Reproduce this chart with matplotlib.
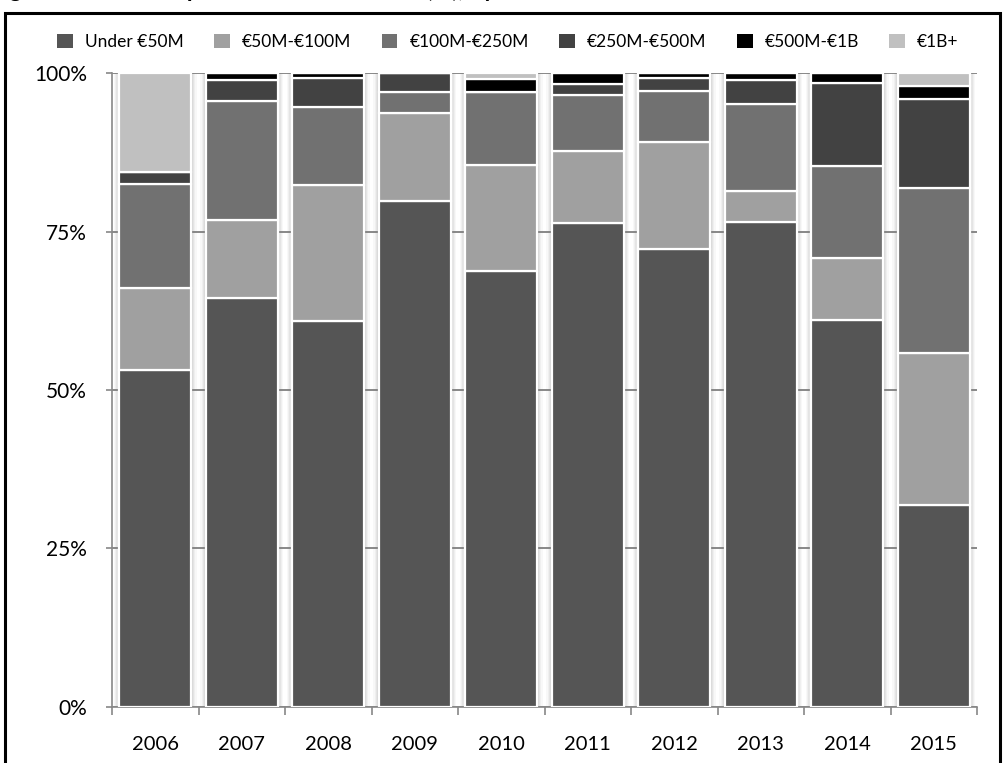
import matplotlib
matplotlib.use("Agg")
import matplotlib.pyplot as plt
import numpy as np
from matplotlib.patches import Rectangle, Patch
from matplotlib.ticker import FuncFormatter, FixedLocator

years = ["2006", "2007", "2008", "2009", "2010", "2011", "2012", "2013", "2014", "2015"]
series_names = ["Under €50M", "€50M-€100M", "€100M-€250M", "€250M-€500M", "€500M-€1B", "€1B+"]
under_50m = [53.2, 64.6, 60.9, 79.9, 68.8, 76.4, 72.2, 76.6, 61.1, 31.8]
m50_100 = [12.9, 12.2, 21.5, 13.9, 16.7, 11.3, 17.0, 4.9, 9.8, 24.1]
m100_250 = [16.4, 18.8, 12.3, 3.2, 11.6, 8.9, 8.0, 13.7, 14.5, 26.0]
m250_500 = [1.9, 3.4, 4.6, 3.0, 0.0, 1.7, 2.0, 3.7, 13.1, 14.1]
m500_1b = [0.0, 1.0, 0.7, 0.0, 2.0, 1.7, 0.8, 1.1, 1.5, 2.0]
b1_plus = [15.6, 0.0, 0.0, 0.0, 0.9, 0.0, 0.0, 0.0, 0.0, 2.0]
colors = ["#555555", "#a0a0a0", "#717171", "#424242", "#000000", "#c0c0c0"]

series = [under_50m, m50_100, m100_250, m250_500, m500_1b, b1_plus]

FONT = "Lato"
plt.rcParams["font.family"] = [FONT, "DejaVu Sans"]

W, H = 1004, 763
fig = plt.figure(figsize=(W / 100, H / 100), dpi=100)

# outer frame
fig.add_artist(Rectangle((5 / W, -0.02), 995 / W, 1.02 - 13 / H, transform=fig.transFigure,
                         fill=False, edgecolor="black", linewidth=2.2))

# heading, mostly above the top edge
fig.text(-10 / W, 1 + 3 / H, "Figure 3: Deal composition of the market (%), by size",
         fontsize=17, fontweight="bold", ha="left", va="baseline", color="black")

ax = fig.add_axes([112 / W, (H - 706.7) / H, 865 / W, (706.7 - 73.4) / H])
x = np.arange(len(years))
bar_w = 0.83

# soft glow behind each column
for i in x:
    for k, a in zip([0.13, 0.10, 0.07, 0.04], [0.05, 0.07, 0.09, 0.12]):
        ax.bar(i, 100, width=bar_w + k, color="#808080", alpha=a, linewidth=0, zorder=1.5)

bottom = np.zeros(len(years))
for name, vals, c in zip(series_names, series, colors):
    vals = np.array(vals)
    ax.bar(x, vals, width=bar_w, bottom=bottom, color=c, edgecolor="white",
           linewidth=1.6, zorder=3, label=name)
    bottom += vals

ax.set_xlim(-0.5, len(years) - 0.5)
ax.set_ylim(0, 100)
ax.yaxis.set_major_locator(FixedLocator([0, 25, 50, 75, 100]))
ax.yaxis.set_major_formatter(FuncFormatter(lambda v, p: f"{int(v)}%"))
ax.set_xticks(x)
ax.set_xticklabels(years)
ax.xaxis.set_minor_locator(FixedLocator(np.arange(-0.5, len(years), 1.0)))
ax.tick_params(axis="x", which="major", length=0, pad=21, labelsize=14.5)
ax.tick_params(axis="x", which="minor", length=6, color="#888888", width=1.2, direction="out")
ax.tick_params(axis="y", length=4, color="#888888", width=1.2, pad=14, labelsize=15)

for s in ["top", "right"]:
    ax.spines[s].set_visible(False)
for s in ["left", "bottom"]:
    ax.spines[s].set_color("#888888")
    ax.spines[s].set_linewidth(1.2)

ax.yaxis.grid(True, color="#888888", linewidth=1.4, zorder=0)
ax.set_axisbelow(True)

handles = [Patch(facecolor=c, edgecolor="none") for c in colors]
fig.legend(handles, series_names, loc="center", bbox_to_anchor=(0.506, (H - 42) / H),
           ncol=6, frameon=False, fontsize=12.5, handlelength=0.9, handleheight=0.9,
           handletextpad=0.7, columnspacing=1.75)

fig.savefig("out.png", dpi=100)
